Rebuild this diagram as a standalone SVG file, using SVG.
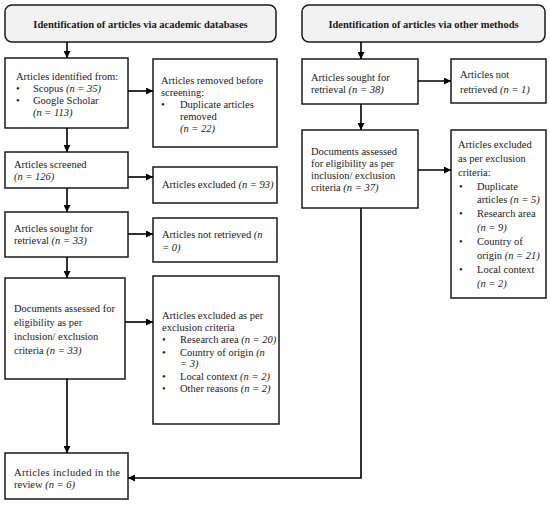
<svg xmlns="http://www.w3.org/2000/svg" width="550" height="506" viewBox="0 0 550 506">
<style>
.box{fill:#fff;stroke:#1a1a1a;stroke-width:1.5}
.hdr{fill:#f2f2f2;stroke:#1a1a1a;stroke-width:1.5}
text{font-family:"Liberation Serif","DejaVu Serif",serif;font-size:10.5px;fill:#1a1a1a}
.b{font-weight:bold}
.i{font-style:italic}
.c{stroke:#000;stroke-width:1.6;fill:none}
</style>
<defs>
<marker id="ah" viewBox="0 0 10 10" refX="10" refY="5" markerWidth="7" markerHeight="7" markerUnits="userSpaceOnUse" orient="auto">
<path d="M0,0 L10,5 L0,10 z" fill="#000"/>
</marker>
</defs>
<rect width="550" height="506" fill="#fff"/>

<g id="hdr-left">
<rect class="hdr" x="5" y="5" width="271" height="37" rx="7"/>
<text class="b" x="140.5" y="28" text-anchor="middle">Identification of articles via academic databases</text>
</g>
<g id="hdr-right">
<rect class="hdr" x="302" y="5" width="243" height="37" rx="7"/>
<text class="b" x="423.5" y="28" text-anchor="middle">Identification of articles via other methods</text>
</g>

<g id="identified">
<rect class="box" x="5" y="58" width="123" height="70"/>
<text x="16" y="80">Articles identified from:</text>
<text x="16" y="92">•</text><text x="33" y="92">Scopus <tspan class="i">(n = 35)</tspan></text>
<text x="16" y="104">•</text><text x="33" y="104">Google Scholar</text>
<text x="33" y="116" class="i">(n = 113)</text>
</g>
<g id="removed">
<rect class="box" x="153" y="59" width="124" height="88"/>
<text x="161" y="84">Articles removed before</text>
<text x="161" y="96">screening:</text>
<text x="161" y="108">•</text><text x="180" y="108">Duplicate articles</text>
<text x="180" y="120">removed</text>
<text x="180" y="132" class="i">(n = 22)</text>
</g>
<g id="screened">
<rect class="box" x="5" y="152" width="123" height="36"/>
<text x="14" y="168">Articles screened</text>
<text x="14" y="180" class="i">(n = 126)</text>
</g>
<g id="excluded1">
<rect class="box" x="153" y="167" width="124" height="36"/>
<text x="162" y="188">Articles excluded <tspan class="i">(n = 93)</tspan></text>
</g>
<g id="sought1">
<rect class="box" x="5" y="212" width="123" height="45"/>
<text x="14" y="232">Articles sought for</text>
<text x="14" y="244">retrieval <tspan class="i">(n = 33)</tspan></text>
</g>
<g id="notret1">
<rect class="box" x="153" y="218" width="124" height="44"/>
<text x="162" y="238">Articles not retrieved <tspan class="i">(n</tspan></text>
<text x="162" y="251" class="i">= 0)</text>
</g>
<g id="assessed1">
<rect class="box" x="5" y="278" width="120" height="101"/>
<text x="14" y="312">Documents assessed for</text>
<text x="14" y="326">eligibility as per</text>
<text x="14" y="340">inclusion/ exclusion</text>
<text x="14" y="354">criteria <tspan class="i">(n = 33)</tspan></text>
</g>
<g id="excluded2">
<rect class="box" x="153" y="276" width="126" height="148"/>
<text x="162" y="319">Articles excluded as per</text>
<text x="162" y="331">exclusion criteria</text>
<text x="162" y="343">•</text><text x="180" y="343">Research area <tspan class="i">(n = 20)</tspan></text>
<text x="162" y="356">•</text><text x="180" y="356">Country of origin <tspan class="i">(n</tspan></text>
<text x="180" y="367" class="i">= 3)</text>
<text x="162" y="380">•</text><text x="180" y="380">Local context <tspan class="i">(n = 2)</tspan></text>
<text x="162" y="392">•</text><text x="180" y="392">Other reasons <tspan class="i">(n = 2)</tspan></text>
</g>
<g id="included">
<rect class="box" x="5" y="453" width="123" height="46"/>
<text x="14" y="476" textLength="106" lengthAdjust="spacing">Articles included in the</text>
<text x="14" y="488">review <tspan class="i">(n = 6)</tspan></text>
</g>

<g id="sought2">
<rect class="box" x="302" y="59" width="116" height="45"/>
<text x="311" y="81">Articles sought for</text>
<text x="311" y="93">retrieval <tspan class="i">(n = 38)</tspan></text>
</g>
<g id="notret2">
<rect class="box" x="451" y="59" width="95" height="44"/>
<text x="460" y="78">Articles not</text>
<text x="460" y="93">retrieved <tspan class="i">(n = 1)</tspan></text>
</g>
<g id="assessed2">
<rect class="box" x="302" y="130" width="116" height="78"/>
<text x="311" y="155">Documents assessed</text>
<text x="311" y="167">for eligibility as per</text>
<text x="311" y="179">inclusion/ exclusion</text>
<text x="311" y="191">criteria <tspan class="i">(n = 37)</tspan></text>
</g>
<g id="excluded3">
<rect class="box" x="451" y="130" width="95" height="168"/>
<text x="458" y="148">Articles excluded</text>
<text x="458" y="162">as per exclusion</text>
<text x="458" y="176">criteria:</text>
<text x="459" y="190">•</text><text x="477" y="190">Duplicate</text>
<text x="477" y="203">articles <tspan class="i">(n = 5)</tspan></text>
<text x="459" y="217">•</text><text x="477" y="217">Research area</text>
<text x="477" y="231" class="i">(n = 9)</text>
<text x="459" y="245">•</text><text x="477" y="245">Country of</text>
<text x="477" y="259">origin <tspan class="i">(n = 21)</tspan></text>
<text x="459" y="273">•</text><text x="477" y="273">Local context</text>
<text x="477" y="287" class="i">(n = 2)</text>
</g>

<g id="connectors">
<path class="c" d="M67,42 V58" marker-end="url(#ah)"/>
<path class="c" d="M128,91 H153" marker-end="url(#ah)"/>
<path class="c" d="M67,128 V152" marker-end="url(#ah)"/>
<path class="c" d="M128,177 H153" marker-end="url(#ah)"/>
<path class="c" d="M67,188 V212" marker-end="url(#ah)"/>
<path class="c" d="M128,234 H153" marker-end="url(#ah)"/>
<path class="c" d="M67,257 V278" marker-end="url(#ah)"/>
<path class="c" d="M125,322 H153" marker-end="url(#ah)"/>
<path class="c" d="M67,379 V453" marker-end="url(#ah)"/>
<path class="c" d="M361,42 V59" marker-end="url(#ah)"/>
<path class="c" d="M418,81 H451" marker-end="url(#ah)"/>
<path class="c" d="M361,104 V130" marker-end="url(#ah)"/>
<path class="c" d="M418,170 H451" marker-end="url(#ah)"/>
<path class="c" d="M361,208 V478 H128" marker-end="url(#ah)"/>
</g>
</svg>
